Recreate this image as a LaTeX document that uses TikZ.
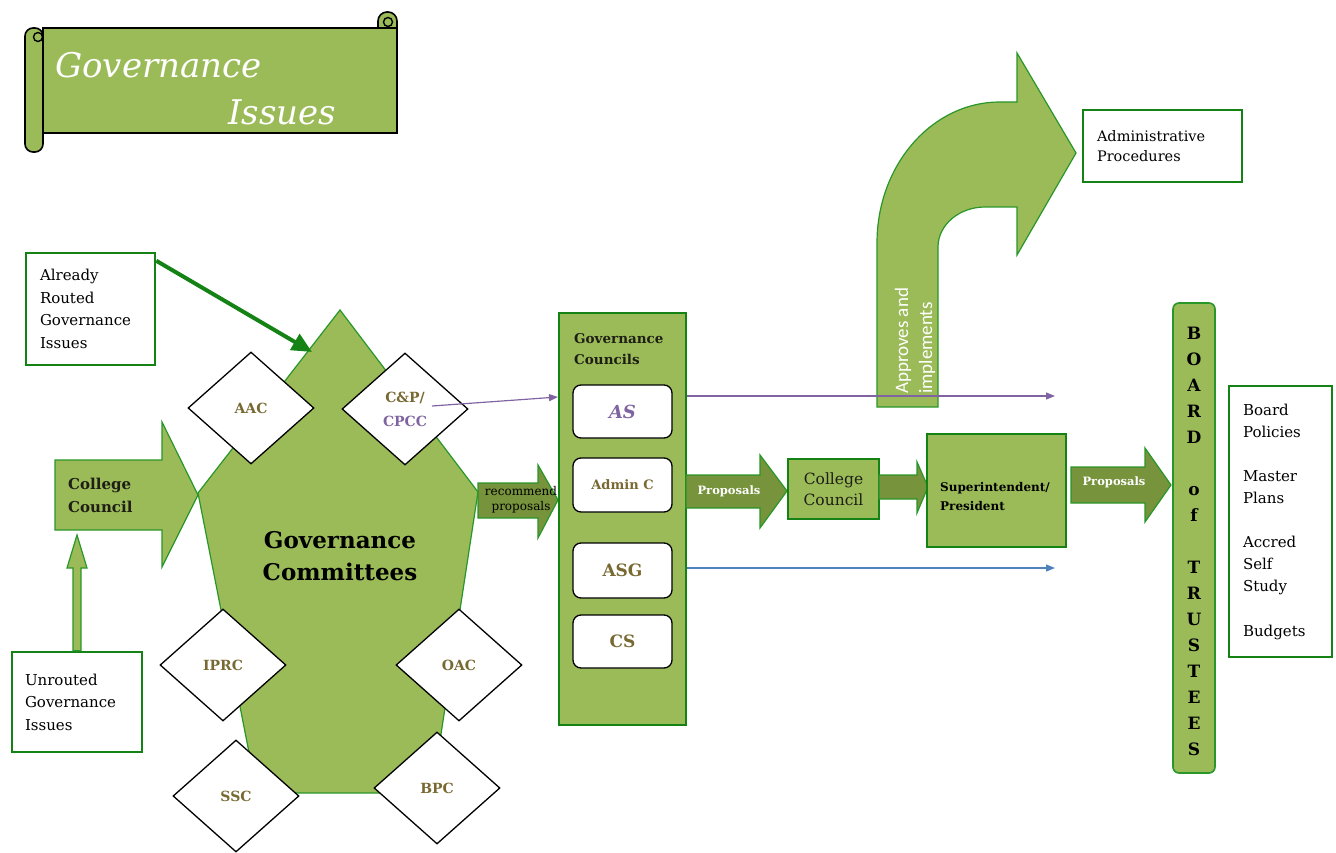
\documentclass[tikz,border=0pt]{standalone}
\usepackage{fontspec}
\setmainfont{DejaVu Serif}
\newfontfamily\sansf{Carlito}
\usetikzlibrary{arrows.meta,shapes.geometric}
\definecolor{lgreen}{HTML}{9BBB59}
\definecolor{dgreen}{HTML}{77933C}
\definecolor{bgreen}{RGB}{20,130,20}
\definecolor{pgreen}{RGB}{40,150,40}
\definecolor{purp}{HTML}{8064A2}
\definecolor{blu}{HTML}{4F81BD}
\definecolor{olivetxt}{RGB}{120,105,50}
\definecolor{darktxt}{RGB}{30,30,20}
\begin{document}
\begin{tikzpicture}[x=1pt,y=-1pt,
  wbox/.style={draw=bgreen, line width=2.5pt, fill=white, inner ysep=0pt, align=left, font=\fontsize{15}{22.5}\selectfont},
  gbox/.style={draw=bgreen, line width=2.5pt, fill=lgreen},
  blockarrow/.style={fill=lgreen, draw=pgreen, line width=1.2pt},
  darrow/.style={fill=dgreen, draw=pgreen, line width=1.2pt},
  dmd/.style={diamond, draw=black, line width=1.3pt, fill=white, minimum width=126pt, minimum height=112pt, inner sep=0pt, align=center, text=olivetxt, font=\bfseries\fontsize{14}{24}\selectfont},
  ibox/.style={rounded corners=8pt, draw=black, line width=1.3pt, fill=white, minimum width=99pt, inner sep=0pt, text=olivetxt, font=\bfseries},
  scrollpart/.style={fill=lgreen, draw=black, line width=1.6pt},
  thin/.style={line width=1.2pt, -{Triangle[length=9pt,width=7pt]}},
]
\useasboundingbox (0,0) rectangle (1336,853);

% ---------- scroll banner ----------
\draw[scrollpart, rounded corners=9pt] (378,12) rectangle (397,60);
\draw[scrollpart] (43,28) rectangle (397,133);
\draw[scrollpart, rounded corners=8pt] (25,28) rectangle (43,152);
\draw[line width=1.4pt] (38,37) circle[radius=4.5pt];
\draw[line width=1.4pt] (388,22) circle[radius=4.5pt];
\draw[line width=1.4pt] (378,28) -- (378,22);
\node[anchor=base west, text=white, font=\itshape\fontsize{34}{40}\selectfont, inner sep=0pt] (t1) at (55,78) {Governance};
\node[anchor=base west, text=white, font=\itshape\fontsize{34}{40}\selectfont, inner sep=0pt] (t2) at (228,125) {Issues};

% ---------- curved arrow ----------
\path[blockarrow] (877,407) -- (877,243) .. controls (877,165) and (932,102) .. (1000,102)
  -- (1017,102) -- (1017,53) -- (1076,153) -- (1017,255) -- (1017,207) -- (985,207)
  .. controls (959,207) and (938,225) .. (938,247) -- (938,407) -- cycle;
\node[rotate=90, anchor=west, align=left, text=white, font=\sansf\fontsize{19}{24}\selectfont, inner sep=0pt] (appr) at (915,394) {Approves and\\implements};

\node[wbox, minimum width=159pt, minimum height=72pt, text width=131pt, inner xsep=14pt, font=\fontsize{14.5}{20}\selectfont] (ap) at (1162.5,146) {Administrative\\Procedures};

% ---------- left boxes ----------
\node[wbox, minimum width=129pt, minimum height=112pt, text width=101pt, inner xsep=14pt] (already) at (90.5,309) {Already\\Routed\\Governance\\Issues};
\node[wbox, minimum width=130pt, minimum height=100pt, text width=104pt, inner xsep=13pt] (unrouted) at (77,702) {Unrouted\\Governance\\Issues};

% College Council block arrow
\path[blockarrow] (55,460) -- (162,460) -- (162,422) -- (198,495) -- (162,567) -- (162,530) -- (55,530) -- cycle;
\node[anchor=west, align=left, text=darktxt, font=\bfseries\fontsize{15}{23}\selectfont, inner sep=0pt] (cc1) at (68,495) {College\\Council};
\coordinate (cc1s) at (77,535);
% up arrow from unrouted
\path[blockarrow] (unrouted.north -| 73,0) -- (73,568) -- (67,568) -- (cc1s) -- (87,568) -- (81,568) -- (unrouted.north -| 81,0) -- cycle;

% ---------- pentagon ----------
\path[fill=lgreen, draw=pgreen, line width=1.2pt] (340,310) -- (478,492) -- (432,793) -- (257,793) -- (198,493) -- cycle;
\node[align=center, text=black, font=\bfseries\fontsize{23}{32}\selectfont, inner sep=0pt] (gcom) at (340,556) {Governance\\Committees};
\coordinate (arrin) at (312,352);
\draw[line width=4pt, bgreen, -{Triangle[length=20pt,width=18pt]}] (already.north east) ++(0,9) -- (arrin);

% diamonds
\node[dmd] (aac) at (251,408) {AAC};
\node[dmd] (cp) at (405,409) {C\&P/\\\textcolor{purp}{CPCC}};
\node[dmd] (iprc) at (223,665) {IPRC};
\node[dmd] (oac) at (459,665) {OAC};
\node[dmd] (ssc) at (236,796) {SSC};
\node[dmd] (bpc) at (437,788) {BPC};

% recommend proposals arrow
\path[darrow] (478,483) -- (538,483) -- (538,465) -- (558,500) -- (538,538) -- (538,518) -- (478,518) -- cycle;
\node[align=center, font=\fontsize{12}{15}\selectfont, inner sep=0pt] (rec) at (521,500) {recommend\\proposals};

% ---------- governance councils ----------
\node[gbox, minimum width=127pt, minimum height=412pt] (gcouncil) at (622.5,519) {};
\node[anchor=west, align=left, text=darktxt, font=\bfseries\fontsize{13.5}{21}\selectfont, inner sep=0pt] (gctitle) at (574,349) {Governance\\Councils};
\node[ibox, minimum height=53pt, text=purp, font=\bfseries\itshape\fontsize{18}{20}\selectfont] (as) at (622.5,411.5) {AS};
\node[ibox, minimum height=54pt, font=\bfseries\fontsize{13}{15}\selectfont] (adm) at (622.5,485) {Admin C};
\node[ibox, minimum height=55pt, font=\bfseries\fontsize{17}{20}\selectfont] (asg) at (622.5,570.5) {ASG};
\node[ibox, minimum height=53pt, font=\bfseries\fontsize{17}{20}\selectfont] (cs) at (622.5,641.5) {CS};

\coordinate (cpout) at (432,406);
\coordinate (gcin) at (558,397);
\draw[thin, purp] (cpout) -- (gcin);
\coordinate (purpend) at (1055,396);
\coordinate (bluend) at (1055,568);
\draw[thin, purp] (gcouncil.east |- purpend) -- (purpend);
\draw[thin, blu] (gcouncil.east |- bluend) -- (bluend);

% Proposals arrow 1
\path[darrow] (686,475) -- (760,475) -- (760,455) -- (787,491) -- (760,528) -- (760,508) -- (686,508) -- cycle;
\node[text=white, font=\bfseries\fontsize{11.5}{14}\selectfont, inner sep=0pt] (prop1) at (729,491) {Proposals};

% College council middle
\node[gbox, minimum width=91pt, minimum height=60pt, inner sep=0pt, align=center, font=\fontsize{15.5}{21}\selectfont, text=darktxt] (cc2) at (833.5,489) {College\\Council};
\path[darrow] (879,475) -- (917,475) -- (917,462) -- (928,487) -- (917,513) -- (917,499) -- (879,499) -- cycle;

% Superintendent
\node[gbox, minimum width=139pt, minimum height=113pt] (sup) at (996.5,490.5) {};
\node[anchor=west, align=left, text=black, font=\bfseries\fontsize{12}{19}\selectfont, inner sep=0pt] (suptxt) at (940,497) {Superintendent/\\President};

% Proposals arrow 2
\path[darrow] (1071,467) -- (1145,467) -- (1145,448) -- (1171,485) -- (1145,522) -- (1145,503) -- (1071,503) -- cycle;
\node[text=white, font=\bfseries\fontsize{11.5}{14}\selectfont, inner sep=0pt] (prop2) at (1114,482) {Proposals};

% ---------- board of trustees ----------
\node[fill=lgreen, draw=pgreen, line width=1.6pt, rounded corners=6pt, minimum width=42pt, minimum height=470pt] (bot) at (1194,538) {};
\node[align=center, text=black, font=\bfseries\fontsize{17}{26}\selectfont, inner sep=0pt] (bottxt) at (1194,541) {B\\O\\A\\R\\D\\\mbox{}\\o\\f\\\mbox{}\\T\\R\\U\\S\\T\\E\\E\\S};

\node[wbox, minimum width=103pt, minimum height=271pt, text width=75pt, inner xsep=14pt, font=\fontsize{15}{22.1}\selectfont] (bp) at (1280.5,521.5) {Board\\Policies\\\mbox{}\\Master\\Plans\\\mbox{}\\Accred\\Self\\Study\\\mbox{}\\Budgets};

\end{tikzpicture}
\end{document}
